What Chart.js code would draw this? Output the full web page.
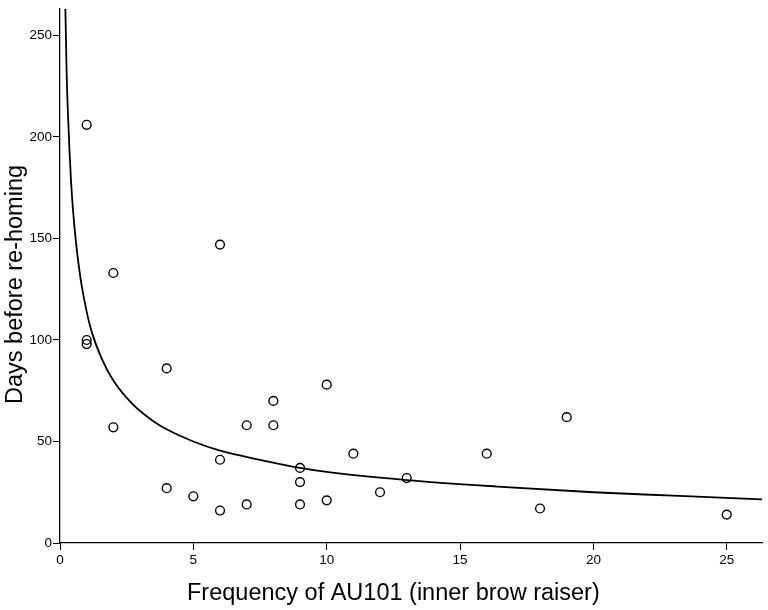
<!DOCTYPE html>
<html>
<head>
<meta charset="utf-8">
<script src="https://cdn.jsdelivr.net/npm/chart.js@4.4.1/dist/chart.umd.min.js"></script>
<style>
  html, body { margin: 0; padding: 0; background: #fff; }
  #wrap { width: 768px; height: 610px; }
</style>
</head>
<body>
<div id="wrap"><canvas id="myChart"></canvas></div>
<script>
// Datos observados: frecuencia de AU101 y dias antes de la adopcion
const freqAU101 = [1, 1, 1, 2, 2, 4, 4, 5, 6, 6, 6, 7, 7, 8, 8, 9, 9, 9, 10, 10, 11, 12, 13, 16, 18, 19, 25];
const daysRehoming = [206, 100, 98, 133, 57, 86, 27, 23, 147, 41, 16, 58, 19, 70, 58, 37, 30, 19, 78, 21, 44, 25, 32, 44, 17, 62, 14];

// Curva de ajuste
const fitX = [0.17, 0.2, 0.25, 0.3, 0.35, 0.41, 0.5, 0.6, 0.7, 0.81, 1.0, 1.19, 1.56, 2.0, 2.75, 3.5, 4, 5, 6, 7.5, 9, 10, 13, 16.4, 20, 23, 26.33];
const fitY = [285, 264, 231, 211, 195, 179, 162, 148, 137, 127, 114, 104, 91, 80, 68, 60, 56, 50, 45.5, 41, 37, 35, 31, 27.8, 25, 23.3, 21.5];

// Marcas de los ejes
const xTicks = [0, 5, 10, 15, 20, 25];
const yTicks = [0, 50, 100, 150, 200, 250];

const xTitle = 'Frequency of AU101 (inner brow raiser)';
const yTitle = 'Days before re-homing';

const points = freqAU101.map((x, i) => ({x: x, y: daysRehoming[i]}));
const fitLine = fitX.map((x, i) => ({x: x, y: fitY[i]}));

// Dibuja los titulos de los ejes en su sitio
const axisTitles = {
    id: 'axisTitles',
    afterDraw(chart) {
        const c = chart.ctx;
        c.save();
        c.fillStyle = '#000';
        c.font = '23.5px "Liberation Sans", Arial';
        c.textBaseline = 'alphabetic';
        c.textAlign = 'left';
        c.fillText(xTitle, 187, 600);
        c.translate(22, 404);
        c.rotate(-Math.PI / 2);
        c.fillText(yTitle, 0, 0);
        c.restore();
    }
};

let ctx = document.getElementById('myChart');
let myChart = new Chart(ctx, {
    type: 'scatter',
    data: {
        datasets: [{
            data: points,
            pointStyle: 'circle',
            pointRadius: 4.4,
            pointBorderWidth: 1.4,
            pointBackgroundColor: 'rgba(255,255,255,0)',
            pointBorderColor: '#000',
            showLine: false
        }, {
            type: 'line',
            data: fitLine,
            borderColor: '#000',
            borderWidth: 1.8,
            pointRadius: 0,
            fill: false,
            cubicInterpolationMode: 'monotone'
        }]
    },
    options: {
        responsive: true,
        maintainAspectRatio: false,
        animation: false,
        layout: {padding: {left: 0, right: 5, top: 5, bottom: 0}},
        plugins: {
            legend: {display: false},
            tooltip: {enabled: false}
        },
        scales: {
            x: {
                type: 'linear',
                min: 0,
                max: 26.33,
                afterBuildTicks: axis => { axis.ticks = xTicks.map(v => ({value: v})); },
                afterFit: axis => { axis.height = 67; },
                grid: {drawOnChartArea: false, tickLength: 7, color: '#000', tickColor: '#000'},
                border: {color: '#000', width: 1.3},
                ticks: {color: '#000', padding: 2, font: {family: 'Liberation Sans, Arial', size: 13.5}, maxRotation: 0},
                title: {display: false}
            },
            y: {
                type: 'linear',
                min: 0,
                max: 263,
                afterBuildTicks: axis => { axis.ticks = yTicks.map(v => ({value: v})); },
                afterFit: axis => { axis.width = 60; },
                grid: {drawOnChartArea: false, tickLength: 7, color: '#000', tickColor: '#000'},
                border: {color: '#000', width: 1.3},
                ticks: {color: '#000', padding: 1, font: {family: 'Liberation Sans, Arial', size: 13.5}},
                title: {display: false}
            }
        }
    },
    plugins: [axisTitles]
});
</script>
</body>
</html>
